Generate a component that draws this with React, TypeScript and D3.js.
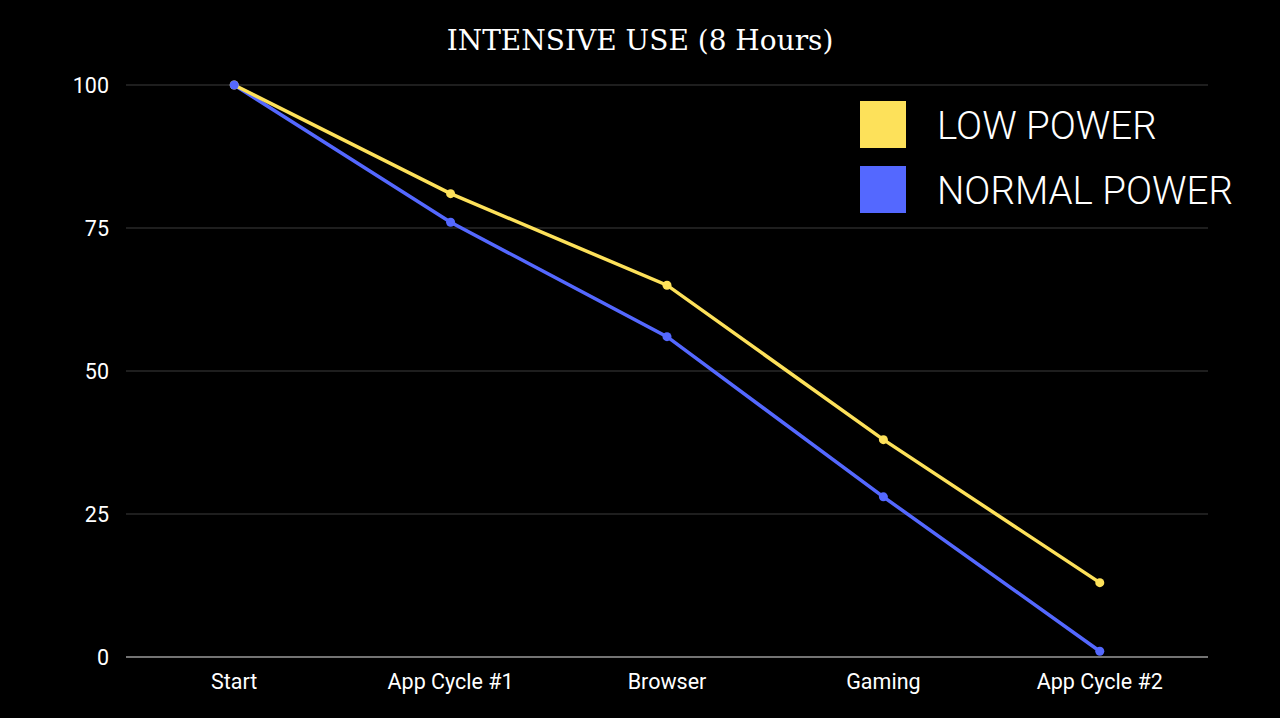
import { useEffect, useRef } from 'react';
import * as d3 from 'd3';

const categories = ['Start', 'App Cycle #1', 'Browser', 'Gaming', 'App Cycle #2'];
const lowPower = [100, 81, 65, 38, 13];
const normalPower = [100, 76, 56, 28, 1];
const yTicks = [0, 25, 50, 75, 100];
const seriesNames = ['LOW POWER', 'NORMAL POWER'];
const seriesColors = ['#fde15a', '#5468ff'];

export default function App() {
  const svgRef = useRef<SVGSVGElement>(null);

  useEffect(() => {
    if (!svgRef.current) return;
    const svg = d3.select(svgRef.current);
    svg.selectAll('*').remove();

    const W = 1280;
    const H = 718;
    const margin = { top: 85, right: 72, bottom: 61, left: 126 };
    const width = W - margin.left - margin.right;
    const height = H - margin.top - margin.bottom;

    svg.append('rect').attr('width', W).attr('height', H).attr('fill', '#000');

    svg.append('text')
      .attr('x', 640)
      .attr('y', 50)
      .attr('text-anchor', 'middle')
      .attr('fill', '#fff')
      .attr('font-family', '"DejaVu Serif", serif')
      .attr('font-size', 28)
      .text('INTENSIVE USE (8 Hours)');

    const x = d3.scaleBand<string>().domain(categories).range([0, width]);
    const y = d3.scaleLinear().domain([0, 100]).range([height, 0]);

    const g = svg.append('g').attr('transform', `translate(${margin.left},${margin.top})`);

    g.selectAll('.grid')
      .data(yTicks)
      .join('line')
      .attr('x1', 0)
      .attr('x2', width)
      .attr('y1', d => y(d))
      .attr('y2', d => y(d))
      .attr('stroke', d => (d === 0 ? '#9a9a9a' : '#3c3c3c'))
      .attr('stroke-width', d => (d === 0 ? 1.5 : 1));

    g.selectAll('.ylab')
      .data(yTicks)
      .join('text')
      .attr('x', -17)
      .attr('y', d => y(d))
      .attr('dy', '0.35em')
      .attr('text-anchor', 'end')
      .attr('fill', '#fff')
      .attr('font-family', 'Roboto, sans-serif')
      .attr('font-size', 21.5)
      .text(d => d);

    g.selectAll('.xlab')
      .data(categories)
      .join('text')
      .attr('x', d => (x(d) ?? 0) + x.bandwidth() / 2)
      .attr('y', height + 32)
      .attr('text-anchor', 'middle')
      .attr('fill', '#fff')
      .attr('font-family', 'Roboto, sans-serif')
      .attr('font-size', 21.5)
      .text(d => d);

    const cx = (i: number) => (x(categories[i]) ?? 0) + x.bandwidth() / 2;
    const line = d3.line<number>().x((_, i) => cx(i)).y(d => y(d));

    [normalPower, lowPower].forEach((s, k) => {
      const color = k === 0 ? seriesColors[1] : seriesColors[0];
      g.append('path')
        .datum(s)
        .attr('fill', 'none')
        .attr('stroke', color)
        .attr('stroke-width', 3.5)
        .attr('d', line);
    });
    [lowPower, normalPower].forEach((s, k) => {
      g.selectAll(`.dot${k}`)
        .data(s)
        .join('circle')
        .attr('cx', (_, i) => cx(i))
        .attr('cy', d => y(d))
        .attr('r', 4.5)
        .attr('fill', seriesColors[k]);
    });

    const legend = svg.append('g');
    seriesNames.forEach((name, i) => {
      legend.append('rect')
        .attr('x', 860)
        .attr('y', 101 + i * 65)
        .attr('width', 46)
        .attr('height', 47)
        .attr('fill', seriesColors[i]);
      legend.append('text')
        .attr('x', 937)
        .attr('y', 139 + i * 65)
        .attr('fill', '#fff')
        .attr('font-family', 'Roboto, sans-serif')
        .attr('font-weight', 300)
        .attr('font-size', 38.5)
        .text(name);
    });
  }, []);

  return <svg ref={svgRef} width={1280} height={718} style={{ display: 'block', position: 'absolute', left: 0, top: 0 }} />;
}
